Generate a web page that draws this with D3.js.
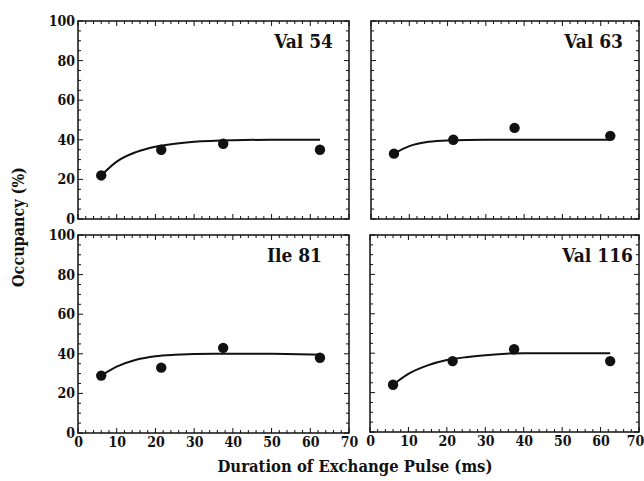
<!DOCTYPE html>
<html><head><meta charset="utf-8">
<script src="https://cdn.jsdelivr.net/npm/d3@7"></script>
<style>body{margin:0;background:#fff}</style>
</head><body><svg id="c" width="644" height="481"></svg>
<script>
const panelNames = ["Val 54", "Val 63", "Ile 81", "Val 116"];
const pulseTimes = [6, 21.5, 37.5, 62.5];
const occVal54 = [22, 35, 38, 35];
const occVal63 = [33, 40, 46, 42];
const occIle81 = [29, 33, 43, 38];
const occVal116 = [24, 36, 42, 36];
const fitVal54 = [[6,22],[10,29],[15,33.8],[20,36.5],[25,38],[30,39],[40,39.8],[50,40],[62.5,40]];
const fitVal63 = [[6,33],[10,36.8],[15,39],[20,39.7],[30,40],[45,40],[62.5,40]];
const fitIle81 = [[6,29],[10,33.5],[15,37],[20,38.8],[25,39.5],[35,40],[50,40],[62.5,39.5]];
const fitVal116 = [[6,24],[10,29.5],[15,33.8],[20,36.5],[25,38],[30,39],[40,40],[50,40],[62.5,40]];
const xTicks = [0,10,20,30,40,50,60,70];
const yTicks = [0,20,40,60,80,100];

const FONT = '"DejaVu Serif Condensed","DejaVu Serif",serif';
const series = [occVal54, occVal63, occIle81, occVal116];
const fits = [fitVal54, fitVal63, fitIle81, fitVal116];
const boxes = [
  {l:78, r:349, t:21, b:219},
  {l:371, r:639, t:21, b:219},
  {l:78, r:349, t:235, b:433},
  {l:370, r:639, t:235, b:432}
];
const labelPos = [[333,48],[623,48],[322,262],[633,262]];
const svg = d3.select("#c");

function styleText(sel, size) {
  sel.attr("font-family", FONT).attr("font-weight", "bold").attr("font-size", size).attr("fill", "#111");
}

boxes.forEach((bx, i) => {
  const x = d3.scaleLinear().domain([0,70]).range([bx.l, bx.r]);
  const y = d3.scaleLinear().domain([0,100]).range([bx.b, bx.t]);
  const g = svg.append("g");
  const minorX = d3.range(0, 70.01, 2);
  const minorY = d3.range(0, 100.01, 5);
  const tk = (sel) => sel.attr("stroke","#111").attr("stroke-width",1);
  minorX.forEach(v => {
    const len = (v % 10 === 0) ? 5 : 3;
    tk(g.append("line").attr("x1",x(v)).attr("x2",x(v)).attr("y1",bx.b).attr("y2",bx.b-len));
    tk(g.append("line").attr("x1",x(v)).attr("x2",x(v)).attr("y1",bx.t).attr("y2",bx.t+len));
  });
  minorY.forEach(v => {
    const len = (v % 20 === 0) ? 5 : 3;
    tk(g.append("line").attr("y1",y(v)).attr("y2",y(v)).attr("x1",bx.l).attr("x2",bx.l+len));
    tk(g.append("line").attr("y1",y(v)).attr("y2",y(v)).attr("x1",bx.r).attr("x2",bx.r-len));
  });
  g.append("rect").attr("x",bx.l).attr("y",bx.t).attr("width",bx.r-bx.l).attr("height",bx.b-bx.t)
    .attr("fill","none").attr("stroke","#111").attr("stroke-width",1.5);
  if (i % 2 === 0) {
    const ax = d3.axisLeft(y).tickValues(yTicks).tickSize(0).tickPadding(3);
    const a = g.append("g").attr("transform",`translate(${bx.l},0)`).call(ax);
    a.attr("font-family", null).attr("font-size", null);
    a.select(".domain").remove();
    styleText(a.selectAll("text"), 14);
  }
  if (i >= 2) {
    const ax = d3.axisBottom(x).tickValues(xTicks).tickSize(0).tickPadding(4);
    const a = g.append("g").attr("transform",`translate(0,${bx.b})`).call(ax);
    a.attr("font-family", null).attr("font-size", null);
    a.select(".domain").remove();
    styleText(a.selectAll("text"), 14);
    if (i === 3) a.selectAll("text").filter(d => d === 70).attr("dx", -4);
  }
  const line = d3.line().x(d => x(d[0])).y(d => y(d[1])).curve(d3.curveMonotoneX);
  g.append("path").attr("d", line(fits[i])).attr("fill","none").attr("stroke","#111").attr("stroke-width",2);
  g.selectAll("circle.pt").data(series[i]).join("circle")
    .attr("cx",(d,j) => x(pulseTimes[j])).attr("cy", d => y(d)).attr("r",5.2).attr("fill","#111");
  styleText(g.append("text").attr("x",labelPos[i][0]).attr("y",labelPos[i][1]).attr("text-anchor","end")
    .text(panelNames[i]), 19);
});

styleText(svg.append("text").attr("transform","translate(24,227) rotate(-90)").attr("text-anchor","middle")
  .text("Occupancy (%)"), 16);
styleText(svg.append("text").attr("x",355).attr("y",472).attr("text-anchor","middle")
  .text("Duration of Exchange Pulse (ms)"), 16.5);
</script></body></html>
